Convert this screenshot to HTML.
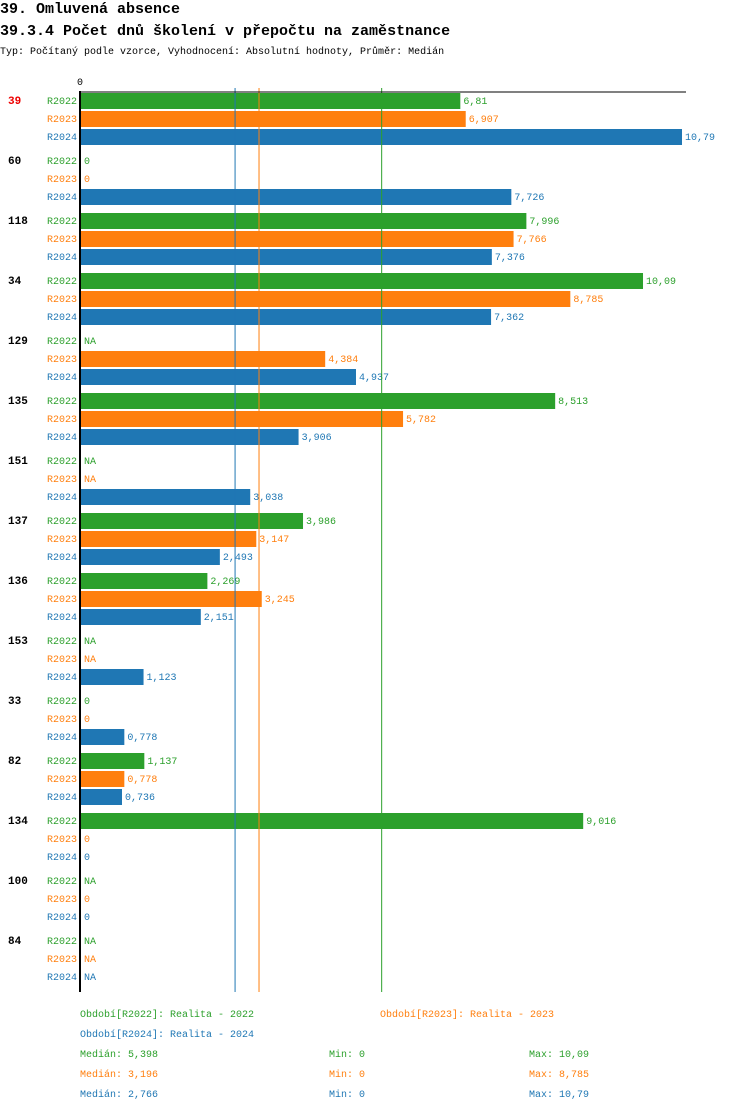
<!DOCTYPE html>
<html><head><meta charset="utf-8"><style>
body{margin:0;background:#fff;width:750px;height:1112px;overflow:hidden}
svg text{font-family:"Liberation Mono",monospace}
</style></head><body>
<svg id="c" width="750" height="1112" xmlns="http://www.w3.org/2000/svg">
<text x="0" y="13" font-size="15" font-weight="bold" fill="#000">39. Omluvená absence</text>
<text x="0" y="35" font-size="15" font-weight="bold" fill="#000">39.3.4 Počet dnů školení v přepočtu na zaměstnance</text>
<text x="0" y="54" font-size="10" fill="#000">Typ: Počítaný podle vzorce, Vyhodnocení: Absolutní hodnoty, Průměr: Medián</text>
<g id="plot"></g>
</svg>
<script>
const categories=["39","60","118","34","129","135","151","137","136","153","33","82","134","100","84"];
const series=["R2022","R2023","R2024"];
const colors=["#2ca02c","#ff7f0e","#1f77b4"];
const v2022=[6.81,0,7.996,10.09,null,8.513,null,3.986,2.269,null,0,1.137,9.016,null,null];
const v2023=[6.907,0,7.766,8.785,4.384,5.782,null,3.147,3.245,null,0,0.778,0,0,null];
const v2024=[10.79,7.726,7.376,7.362,4.937,3.906,3.038,2.493,2.151,1.123,0.778,0.736,0,0,null];
const medians=[5.398,3.196,2.766];
const mins=[0,0,0];
const maxs=[10.09,8.785,10.79];
const values=[v2022,v2023,v2024];
const NS="http://www.w3.org/2000/svg";
const g=document.getElementById('plot');
const x0=81,scale=55.7;
const xs=v=>x0+v*scale;
const rowY=(i,j)=>92+60*i+18*j;
const fmt=v=>String(v).replace('.',',');
function el(t,a,txt){const e=document.createElementNS(NS,t);for(const k in a)e.setAttribute(k,a[k]);if(txt!=null)e.textContent=txt;g.appendChild(e);return e;}
const bottom=92+60*categories.length;
categories.forEach((c,i)=>{
const t=el('text',{x:8,y:rowY(i,0)+12,'font-size':11,'font-weight':'bold',fill:i==0?'#e00':'#000'},c);


series.forEach((s,j)=>{
const y=rowY(i,j);const v=values[j][i];
const sl=el('text',{x:77,y:y+12,'font-size':10,fill:colors[j],'text-anchor':'end'},s);


if(v!=null&&v>0){
const r=el('rect',{x:x0,y:y+1,width:v*scale,height:16,fill:colors[j]});


}
const vl=el('text',{x:(v?xs(v):x0)+3,y:y+12,'font-size':10,fill:colors[j]},v==null?'NA':fmt(v));


});
});
medians.forEach((m,j)=>{
const l=el('line',{x1:xs(m),x2:xs(m),y1:88,y2:bottom,stroke:colors[j],'stroke-width':1});


});
const ax=el('line',{x1:80,x2:80,y1:91,y2:bottom,stroke:'#000','stroke-width':2});


const tx=el('line',{x1:79,x2:686,y1:92,y2:92,stroke:'#000','stroke-width':1});


const z=el('text',{x:77,y:85,'font-size':10,fill:'#000'},'0');


const legs=[[80,1017,"Období[R2022]: Realita - 2022"],[380,1017,"Období[R2023]: Realita - 2023"],[80,1037,"Období[R2024]: Realita - 2024"]];
legs.forEach((L,j)=>{
const t=el('text',{x:L[0],y:L[1],'font-size':10,fill:colors[j]},L[2]);


});
series.forEach((s,j)=>{
const y=1057+20*j;
const a=el('text',{x:80,y:y,'font-size':10,fill:colors[j]},'Medián: '+fmt(medians[j]));


const b=el('text',{x:329,y:y,'font-size':10,fill:colors[j]},'Min: '+fmt(mins[j]));


const c=el('text',{x:529,y:y,'font-size':10,fill:colors[j]},'Max: '+fmt(maxs[j]));


});
</script>
</body></html>
